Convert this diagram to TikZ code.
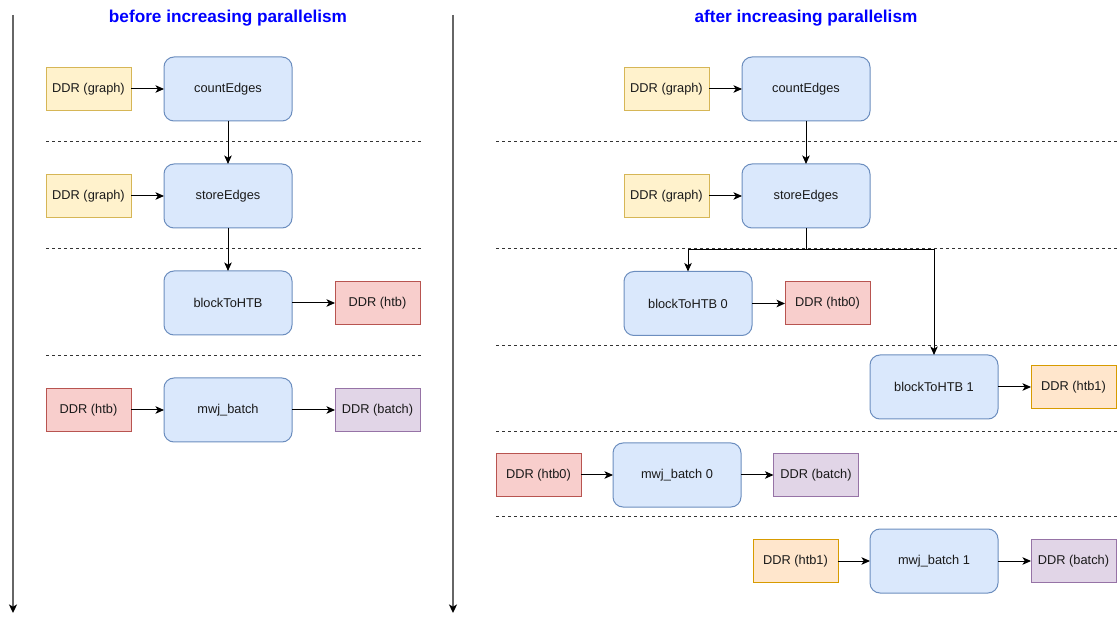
\documentclass[tikz,border=0pt]{standalone}
\usepackage{fontspec}
\setmainfont{Liberation Sans}
\usetikzlibrary{arrows.meta}
\definecolor{blueF}{HTML}{DAE8FC}\definecolor{blueD}{HTML}{6C8EBF}
\definecolor{yelF}{HTML}{FFF2CC}\definecolor{yelD}{HTML}{D6B656}
\definecolor{redF}{HTML}{F8CECC}\definecolor{redD}{HTML}{B85450}
\definecolor{purF}{HTML}{E1D5E7}\definecolor{purD}{HTML}{9673A6}
\definecolor{orgF}{HTML}{FFE6CC}\definecolor{orgD}{HTML}{D79B00}
\definecolor{txt}{HTML}{1A1A1A}
\definecolor{ttl}{HTML}{0000FF}
\tikzset{
  base/.style={draw, line width=1pt, inner sep=0pt, outer sep=0pt, text=txt,
    font=\fontsize{12.8}{15}\selectfont},
  kernel/.style={base, fill=blueF, draw=blueD, rounded corners=10pt,
    minimum width=128pt, minimum height=64pt},
  mem/.style={base, minimum width=85pt, minimum height=43pt},
  graphmem/.style={mem, fill=yelF, draw=yelD},
  htbmem/.style={mem, fill=redF, draw=redD},
  htbonemem/.style={mem, fill=orgF, draw=orgD},
  batchmem/.style={mem, fill=purF, draw=purD},
  flow/.style={draw=black, line width=1pt, -{Stealth[length=8.5pt,width=7.5pt,inset=2.2pt]}},
  stage/.style={draw=black!80, line width=0.9pt, dash pattern=on 3pt off 3pt},
  timeline/.style={draw=black!60, line width=1.5pt,
    -{Stealth[length=8.5pt,width=8pt,inset=2.2pt,color=black]}},
  heading/.style={text=ttl, font=\fontsize{17.2}{20}\selectfont\bfseries}
}
\begin{document}
\begin{tikzpicture}[x=1pt,y=-1pt]
\useasboundingbox[fill=white] (0,0) rectangle (1117,617);

% time axes
\coordinate (tlA) at (13,15);  \coordinate (tlB) at (13,613);
\coordinate (trA) at (453,15); \coordinate (trB) at (453,613);
\draw[timeline] (tlA) -- (tlB);
\draw[timeline] (trA) -- (trB);

% headings
\node[heading] (hL) at (228,18) {before increasing parallelism};
\node[heading] (hR) at (806,18) {after increasing parallelism};

% stage separators
\foreach \y in {141,248,355} \draw[stage] (46,\y) -- (421,\y);
\foreach \y in {141,248,345,431,516} \draw[stage] (496,\y) -- (1117,\y);

% ---------- before ----------
\node[graphmem] (gA) at (88.5,89) {DDR (graph)};
\node[kernel]   (cA) at (228,89) {countEdges};
\node[graphmem] (gB) at (88.5,196) {DDR (graph)};
\node[kernel]   (sA) at (228,196) {storeEdges};
\node[kernel]   (bA) at (228,303) {blockToHTB};
\node[htbmem]   (hA) at (377.5,303) {DDR (htb)};
\node[htbmem]   (hB) at (88.5,410) {DDR (htb)};
\node[kernel]   (mA) at (228,410) {mwj\_batch};
\node[batchmem] (bbA) at (377.5,410) {DDR (batch)};

\draw[flow] (gA) -- (cA);
\draw[flow] (cA) -- (sA);
\draw[flow] (gB) -- (sA);
\draw[flow] (sA) -- (bA);
\draw[flow] (bA) -- (hA);
\draw[flow] (hB) -- (mA);
\draw[flow] (mA) -- (bbA);

% ---------- after ----------
\node[graphmem]  (gC) at (666.5,89) {DDR (graph)};
\node[kernel]    (cB) at (806,89) {countEdges};
\node[graphmem]  (gD) at (666.5,196) {DDR (graph)};
\node[kernel]    (sB) at (806,196) {storeEdges};
\node[kernel]    (b0) at (688,303.5) {blockToHTB 0};
\node[htbmem]    (h0) at (827.5,303.5) {DDR (htb0)};
\node[kernel]    (b1) at (934,387) {blockToHTB 1};
\node[htbonemem] (h1) at (1073.5,387) {DDR (htb1)};
\node[htbmem]    (h0b) at (538.5,475) {DDR (htb0)};
\node[kernel]    (m0) at (677,475) {mwj\_batch 0};
\node[batchmem]  (bt0) at (816,475) {DDR (batch)};
\node[htbonemem] (h1b) at (795.5,561) {DDR (htb1)};
\node[kernel]    (m1) at (934,561) {mwj\_batch 1};
\node[batchmem]  (bt1) at (1073.5,561) {DDR (batch)};

\draw[flow] (gC) -- (cB);
\draw[flow] (cB) -- (sB);
\draw[flow] (gD) -- (sB);
\coordinate (split) at (806,250);
\draw[line width=1pt] (sB.south) -- (split);
\draw[flow] (split) -| (b0.north);
\draw[flow] (split) -| (b1.north);
\draw[flow] (b0) -- (h0);
\draw[flow] (b1) -- (h1);
\draw[flow] (h0b) -- (m0);
\draw[flow] (m0) -- (bt0);
\draw[flow] (h1b) -- (m1);
\draw[flow] (m1) -- (bt1);
\end{tikzpicture}
\end{document}
